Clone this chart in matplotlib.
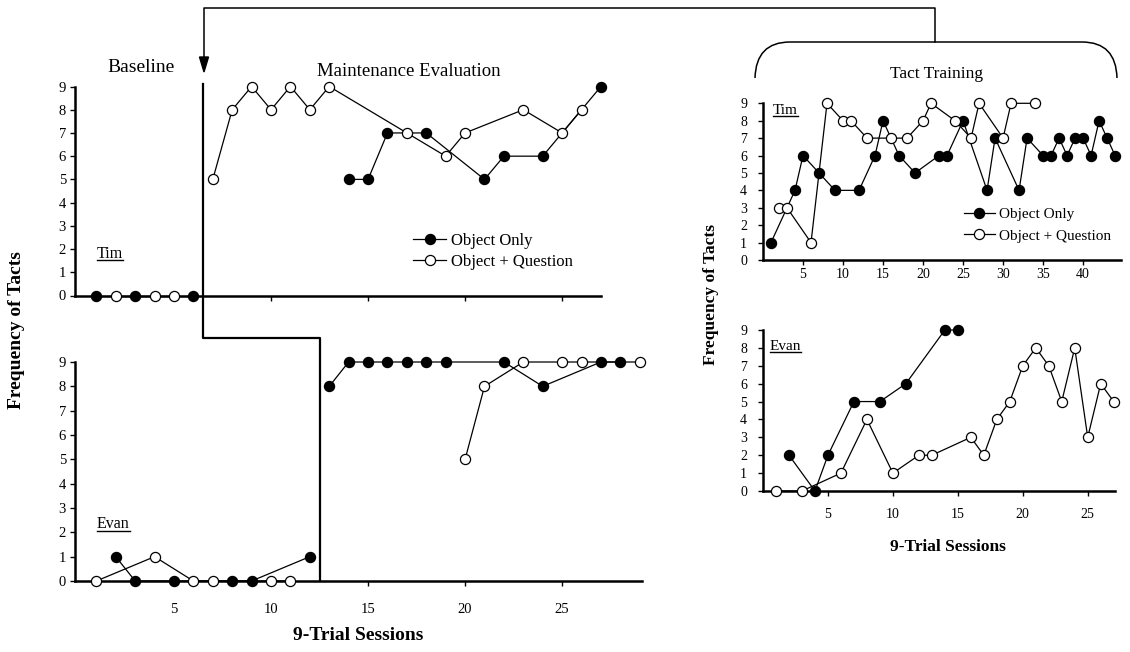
import matplotlib
matplotlib.use("Agg")
import matplotlib.pyplot as plt
from matplotlib.lines import Line2D
from matplotlib.patches import Polygon, PathPatch
from matplotlib.path import Path

plt.rcParams["font.family"] = ["Liberation Serif", "DejaVu Serif"]

W, H = 1130, 652

# ---- data: maintenance evaluation (left) ----
tim_base_obj_x = [1, 3, 6]
tim_base_obj_y = [0, 0, 0]
tim_base_q_x = [2, 4, 5]
tim_base_q_y = [0, 0, 0]
tim_maint_obj_x = [14, 15, 16, 18, 21, 22, 24, 27]
tim_maint_obj_y = [5, 5, 7, 7, 5, 6, 6, 9]
tim_maint_q_x = [7, 8, 9, 10, 11, 12, 13, 17, 19, 20, 23, 25, 26]
tim_maint_q_y = [5, 8, 9, 8, 9, 8, 9, 7, 6, 7, 8, 7, 8]

evan_base_obj_x = [2, 3, 5, 8, 9, 12]
evan_base_obj_y = [1, 0, 0, 0, 0, 1]
evan_base_q_x = [1, 4, 6, 7, 10, 11]
evan_base_q_y = [0, 1, 0, 0, 0, 0]
evan_maint_obj_x = [13, 14, 15, 16, 17, 18, 19, 22, 24, 27, 28]
evan_maint_obj_y = [8, 9, 9, 9, 9, 9, 9, 9, 8, 9, 9]
evan_maint_q_x = [20, 21, 23, 25, 26, 29]
evan_maint_q_y = [5, 8, 9, 9, 9, 9]

tim_phase = 6.5
evan_phase = 12.5

# ---- data: tact training (right) ----
tim_tt_obj_x = [1, 4, 5, 7, 9, 12, 14, 15, 17, 19, 22, 23, 25, 28, 29, 32, 33,
                35, 36, 37, 38, 39, 40, 41, 42, 43, 44]
tim_tt_obj_y = [1, 4, 6, 5, 4, 4, 6, 8, 6, 5, 6, 6, 8, 4, 7, 4, 7,
                6, 6, 7, 6, 7, 7, 6, 8, 7, 6]
tim_tt_q_x = [2, 3, 6, 8, 10, 11, 13, 16, 18, 20, 21, 24, 26, 27, 30, 31, 34]
tim_tt_q_y = [3, 3, 1, 9, 8, 8, 7, 7, 7, 8, 9, 8, 7, 9, 7, 9, 9]

evan_tt_obj_x = [2, 4, 5, 7, 9, 11, 14, 15]
evan_tt_obj_y = [2, 0, 2, 5, 5, 6, 9, 9]
evan_tt_q_x = [1, 3, 6, 8, 10, 12, 13, 16, 17, 18, 19, 20, 21, 22, 23, 24, 25, 26, 27]
evan_tt_q_y = [0, 0, 1, 4, 1, 2, 2, 3, 2, 4, 5, 7, 8, 7, 5, 8, 3, 6, 5]

y_ticks = list(range(10))


def px(x, y):
    return x / W, 1 - y / H


fig = plt.figure(figsize=(W / 100, H / 100), dpi=100)
fig.patch.set_facecolor("white")


def box(left, top, right, bottom):
    return [left / W, 1 - bottom / H, (right - left) / W, (bottom - top) / H]


ax_tl = fig.add_axes(box(75, 86.5, 641.7, 295.5))
ax_bl = fig.add_axes(box(75, 362, 641.7, 581))
ax_tr = fig.add_axes(box(763, 103.3, 1120.7, 260))
ax_br = fig.add_axes(box(763, 330, 1115, 491))

obj_style = dict(color="black", lw=0.9, marker="o", ms=7.3, mfc="black",
                 mec="black", mew=0.9, clip_on=False, zorder=5)
q_style = dict(color="black", lw=0.9, marker="o", ms=7.3, mfc="white",
               mec="black", mew=0.9, clip_on=False, zorder=5)


def style_axes(ax, xlim, xticks, xlabels, tick_fs, ypad, xpad):
    ax.set_xlim(*xlim)
    ax.set_ylim(0, 9)
    for s in ("top", "right"):
        ax.spines[s].set_visible(False)
    for s in ("left", "bottom"):
        ax.spines[s].set_linewidth(1.8)
        ax.spines[s].set_zorder(3)
    ax.set_yticks(y_ticks)
    ax.set_xticks(xticks)
    ax.set_xticklabels(xlabels)
    ax.tick_params(axis="y", direction="out", length=3.5, width=1,
                   labelsize=tick_fs, pad=ypad)
    ax.tick_params(axis="x", direction="out", length=3.5, width=1,
                   labelsize=tick_fs, pad=xpad)
    ax.patch.set_alpha(0)


# left top: Tim
ax = ax_tl
ax.plot(tim_base_obj_x, tim_base_obj_y, **obj_style)
ax.plot(tim_base_q_x, tim_base_q_y, **q_style)
ax.plot(tim_maint_obj_x, tim_maint_obj_y, **obj_style, label="Object Only")
ax.plot(tim_maint_q_x, tim_maint_q_y, **q_style, label="Object + Question")
style_axes(ax, (-0.1, 29.1), [10, 15, 20, 25], [], 10.5, 3, 12)
ax.spines["bottom"].set_bounds(-0.1, 27)
ax.legend(loc="center left", bbox_to_anchor=px(413, 251.5),
          bbox_transform=fig.transFigure, frameon=False, fontsize=12,
          handlelength=2.0, handletextpad=0.3, labelspacing=0.3,
          borderpad=0, borderaxespad=0)

# left bottom: Evan
ax = ax_bl
ax.plot(evan_base_obj_x, evan_base_obj_y, **obj_style)
ax.plot(evan_base_q_x, evan_base_q_y, **q_style)
ax.plot(evan_maint_obj_x, evan_maint_obj_y, **obj_style)
ax.plot(evan_maint_q_x, evan_maint_q_y, **q_style)
style_axes(ax, (-0.1, 29.1), [5, 10, 15, 20, 25],
           ["5", "10", "15", "20", "25"], 10.5, 3, 12)

# phase change lines (in bottom-left data units, running up into the top panel)
ax_bl.plot([tim_phase, tim_phase, evan_phase, evan_phase], [20.42, 10, 10, 0],
           color="black", lw=1.6, clip_on=False, zorder=4)

# right top: Tim tact training
ax = ax_tr
ax.plot(tim_tt_obj_x, tim_tt_obj_y, **obj_style, label="Object Only")
ax.plot(tim_tt_q_x, tim_tt_q_y, **q_style, label="Object + Question")
style_axes(ax, (0, 44.7), [5, 10, 15, 20, 25, 30, 35, 40],
           ["5", "10", "15", "20", "25", "30", "35", "40"], 10, 8, 2)
ax.legend(loc="center left", bbox_to_anchor=px(964, 225),
          bbox_transform=fig.transFigure, frameon=False, fontsize=11,
          handlelength=2.0, handletextpad=0.3, labelspacing=0.5,
          borderpad=0, borderaxespad=0)

# right bottom: Evan tact training
ax = ax_br
ax.plot(evan_tt_obj_x, evan_tt_obj_y, **obj_style)
ax.plot(evan_tt_q_x, evan_tt_q_y, **q_style)
style_axes(ax, (0, 27.1), [5, 10, 15, 20, 25],
           ["5", "10", "15", "20", "25"], 10, 8, 9)

# arrow from Tact Training bracket back to maintenance phase line
xs, ys = zip(*[px(935, 42), px(935, 8), px(204, 8), px(204, 60)])
fig.add_artist(Line2D(xs, ys, color="black", lw=1.1, transform=fig.transFigure))
fig.add_artist(Polygon([px(199.5, 57), px(208.5, 57), px(204, 72)], closed=True,
                       color="black", transform=fig.transFigure))

# bracket over tact training
verts = [px(755, 78), px(756, 42), px(790, 42), px(1082, 42), px(1116, 42), px(1117, 78)]
codes = [Path.MOVETO, Path.CURVE3, Path.CURVE3, Path.LINETO, Path.CURVE3, Path.CURVE3]
fig.add_artist(PathPatch(Path(verts, codes), fill=False, lw=1.1, ec="black",
                         transform=fig.transFigure))

# phase and panel titles
fig.text(*px(141, 68), "Baseline", ha="center", va="center", fontsize=14)
fig.text(*px(409, 72), "Maintenance Evaluation", ha="center", va="center", fontsize=13.5)
fig.text(*px(937, 74), "Tact Training", ha="center", va="center", fontsize=12.5)

# axis labels
fig.text(*px(17, 330), "Frequency of Tacts", rotation=90, ha="center",
         va="center", fontsize=14, fontweight="bold")
fig.text(*px(711, 295), "Frequency of Tacts", rotation=90, ha="center",
         va="center", fontsize=12.5, fontweight="bold")
fig.text(*px(358, 636), "9-Trial Sessions", ha="center", va="center",
         fontsize=14, fontweight="bold")
fig.text(*px(948, 547), "9-Trial Sessions", ha="center", va="center",
         fontsize=12.5, fontweight="bold")

# underlined participant names
names = [("Tim", 97, 258, 11.5), ("Evan", 97, 528.5, 11.5),
         ("Tim", 773, 114, 11), ("Evan", 770, 349.5, 11)]
renderer = fig.canvas.get_renderer()
for label, x0, base, fs in names:
    t = fig.text(*px(x0, base), label, ha="left", va="baseline", fontsize=fs)
    bb = t.get_window_extent(renderer)
    uy = 1 - (base + 2) / H
    fig.add_artist(Line2D([bb.x0 / W, bb.x1 / W], [uy, uy], color="black",
                          lw=1.0, transform=fig.transFigure))

fig.savefig("out.png", dpi=100)
